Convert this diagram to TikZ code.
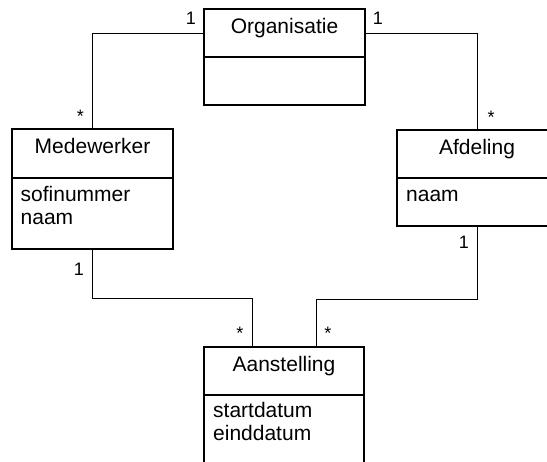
\documentclass[tikz,border=0pt]{standalone}
\usepackage{fontspec}
\setmainfont{Liberation Sans}
\usetikzlibrary{calc}
\begin{document}
\begin{tikzpicture}[x=1pt,y=-1pt,
  umlbox/.style={draw, line width=1.7pt, inner sep=0pt, outer sep=0pt, anchor=north west},
  divider/.style={line width=1.1pt},
  link/.style={line width=0.9pt},
  title/.style={anchor=base, inner sep=0pt, font=\fontsize{21}{23}\selectfont},
  attr/.style={anchor=base west, inner sep=0pt, font=\fontsize{21}{23}\selectfont},
  mult/.style={inner sep=0pt, font=\fontsize{18}{20}\selectfont}]
\useasboundingbox (0,0) rectangle (547,462);
\clip (0,0) rectangle (547,462);

% class boxes
\node[umlbox, minimum width=161pt, minimum height=96pt]  (org) at (204,9)   {};
\node[umlbox, minimum width=161pt, minimum height=120pt] (med) at (12,129)  {};
\node[umlbox, minimum width=160pt, minimum height=96pt]  (afd) at (397,130) {};
\node[umlbox, minimum width=160pt, minimum height=130pt] (aan) at (204,347) {};

% compartment dividers
\draw[divider] ($(org.north west)+(0,48)$) -- ($(org.north east)+(0,48)$);
\draw[divider] ($(med.north west)+(0,49)$) -- ($(med.north east)+(0,49)$);
\draw[divider] ($(afd.north west)+(0,48)$) -- ($(afd.north east)+(0,48)$);
\draw[divider] ($(aan.north west)+(0,48)$) -- ($(aan.north east)+(0,48)$);

% class names
\node[title] (orgT) at ($(org.north)+(0,24.5)$) {Organisatie};
\node[title] (medT) at ($(med.north)+(0,25)$)   {Medewerker};
\node[title] (afdT) at ($(afd.north)+(0,25)$)   {Afdeling};
\node[title] (aanT) at ($(aan.north)+(0,24.5)$) {Aanstelling};

% attributes, one node per line
\node[attr] (medA1) at ($(med.north west)+(8.5,73)$) {sofinummer};
\node[attr] (medA2) at ($(med.north west)+(8.5,96)$) {naam};
\node[attr] (afdA1) at ($(afd.north west)+(9,72)$)   {naam};
\node[attr] (aanA1) at ($(aan.north west)+(9,71)$)   {startdatum};
\node[attr] (aanA2) at ($(aan.north west)+(9,94)$)   {einddatum};

% connector end points
\coordinate (orgL) at ($(org.north west)+(0,24)$);
\coordinate (orgR) at ($(org.north east)+(0,24)$);
\coordinate (aanL) at ($(aan.north west)+(48,0)$);
\coordinate (aanR) at ($(aan.north west)+(112,0)$);

% associations
\draw[link] (orgL) -| (med.north);
\draw[link] (orgR) -| (afd.north);
\draw[link] (med.south) |- ($(aanL)+(0,-49)$) -- (aanL);
\draw[link] (afd.south) |- ($(aanR)+(0,-48)$) -- (aanR);

% multiplicities
\node[mult] (m1) at (191,18)  {1};
\node[mult] (m2) at (378,18)  {1};
\node[mult] (m3) at (80.5,116) {*};
\node[mult] (m4) at (491,117) {*};
\node[mult] (m5) at (79,269)  {1};
\node[mult] (m6) at (464,242) {1};
\node[mult] (m7) at (240,333) {*};
\node[mult] (m8) at (328,333) {*};
\end{tikzpicture}
\end{document}
